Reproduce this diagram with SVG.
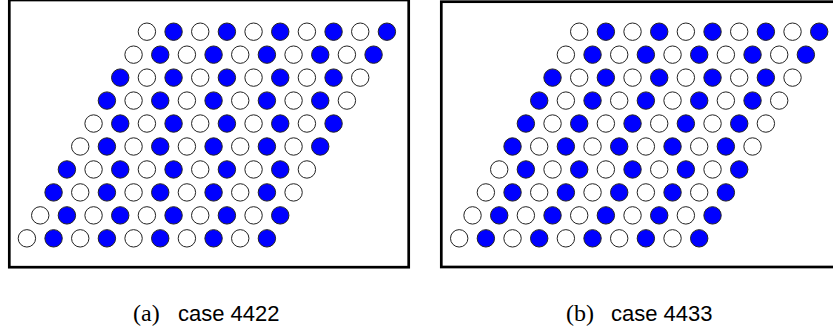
<svg xmlns="http://www.w3.org/2000/svg" xmlns:xlink="http://www.w3.org/1999/xlink" width="833" height="331" viewBox="0 0 833 331">
<style>
.frame{fill:#fff;stroke:#000;stroke-width:2.7}
.w{fill:#fff;stroke:#222;stroke-width:1}
.b{fill:#0000ff;stroke:#222;stroke-width:1}
.serif{font-family:"Liberation Serif","DejaVu Serif",serif;font-size:24px;fill:#000}
.sans{font-family:"Liberation Sans","DejaVu Sans",sans-serif;font-size:22px;fill:#000}
</style>
<defs>
<g id="rowW">
<circle class="w" cx="0" cy="0" r="8.7"/><circle class="b" cx="26.667" cy="0" r="8.7"/><circle class="w" cx="53.333" cy="0" r="8.7"/><circle class="b" cx="80" cy="0" r="8.7"/><circle class="w" cx="106.667" cy="0" r="8.7"/><circle class="b" cx="133.333" cy="0" r="8.7"/><circle class="w" cx="160" cy="0" r="8.7"/><circle class="b" cx="186.667" cy="0" r="8.7"/><circle class="w" cx="213.333" cy="0" r="8.7"/><circle class="b" cx="240" cy="0" r="8.7"/>
</g>
<g id="rowB">
<circle class="b" cx="0" cy="0" r="8.7"/><circle class="w" cx="26.667" cy="0" r="8.7"/><circle class="b" cx="53.333" cy="0" r="8.7"/><circle class="w" cx="80" cy="0" r="8.7"/><circle class="b" cx="106.667" cy="0" r="8.7"/><circle class="w" cx="133.333" cy="0" r="8.7"/><circle class="b" cx="160" cy="0" r="8.7"/><circle class="w" cx="186.667" cy="0" r="8.7"/><circle class="b" cx="213.333" cy="0" r="8.7"/><circle class="w" cx="240" cy="0" r="8.7"/>
</g>
</defs>
<rect width="833" height="331" fill="#fff"/>
<g id="panel-a">
<rect class="frame" x="9.3" y="0" width="399.4" height="267.2"/>
<g id="lattice-a">
<use xlink:href="#rowW" href="#rowW" x="146.9" y="31.7"/>
<use xlink:href="#rowW" href="#rowW" x="133.57" y="54.66"/>
<use xlink:href="#rowB" href="#rowB" x="120.23" y="77.62"/>
<use xlink:href="#rowB" href="#rowB" x="106.9" y="100.58"/>
<use xlink:href="#rowW" href="#rowW" x="93.57" y="123.54"/>
<use xlink:href="#rowW" href="#rowW" x="80.23" y="146.5"/>
<use xlink:href="#rowB" href="#rowB" x="66.9" y="169.46"/>
<use xlink:href="#rowB" href="#rowB" x="53.57" y="192.42"/>
<use xlink:href="#rowW" href="#rowW" x="40.23" y="215.38"/>
<use xlink:href="#rowW" href="#rowW" x="26.9" y="238.34"/>
</g>
<text id="label-a"><tspan class="serif" x="133" y="321">(a)</tspan><tspan class="sans" x="178" y="321">case 4422</tspan></text>
</g>
<g id="panel-b">
<rect class="frame" x="441.3" y="1.7" width="399.4" height="265.3"/>
<g id="lattice-b">
<use xlink:href="#rowW" href="#rowW" x="579.2" y="31.7"/>
<use xlink:href="#rowW" href="#rowW" x="565.87" y="54.66"/>
<use xlink:href="#rowB" href="#rowB" x="552.53" y="77.62"/>
<use xlink:href="#rowB" href="#rowB" x="539.2" y="100.58"/>
<use xlink:href="#rowB" href="#rowB" x="525.87" y="123.54"/>
<use xlink:href="#rowB" href="#rowB" x="512.53" y="146.5"/>
<use xlink:href="#rowW" href="#rowW" x="499.2" y="169.46"/>
<use xlink:href="#rowW" href="#rowW" x="485.87" y="192.42"/>
<use xlink:href="#rowW" href="#rowW" x="472.53" y="215.38"/>
<use xlink:href="#rowW" href="#rowW" x="459.2" y="238.34"/>
</g>
<text id="label-b"><tspan class="serif" x="566" y="321">(b)</tspan><tspan class="sans" x="611" y="321">case 4433</tspan></text>
</g>
</svg>
